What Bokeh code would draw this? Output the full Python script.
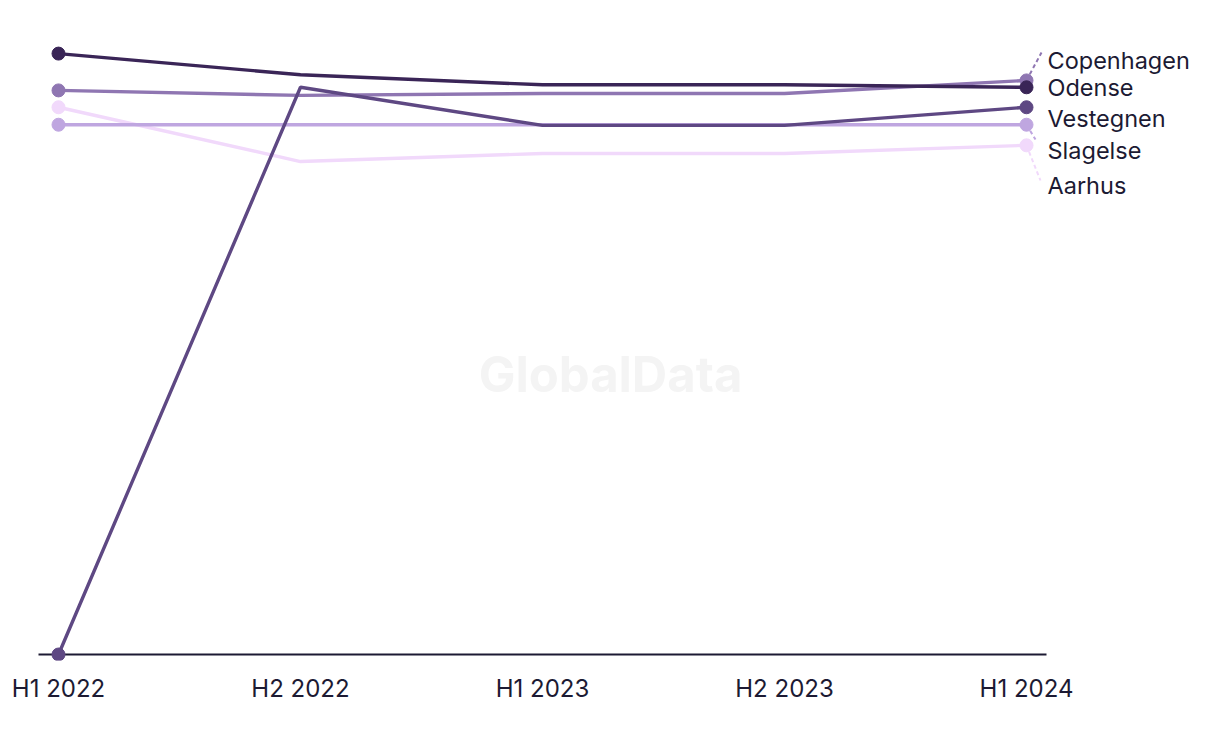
from bokeh.plotting import figure
from bokeh.models import Range1d, FixedTicker
from bokeh.core.properties import value
from bokeh.embed import file_html
from bokeh.resources import INLINE

periods = ["H1 2022", "H2 2022", "H1 2023", "H2 2023", "H1 2024"]
copenhagen = [90.4, 89.6, 89.9, 89.9, 92.0]
odense = [96.3, 92.9, 91.3, 91.3, 90.9]
vestegnen = [0.0, 90.9, 84.8, 84.8, 87.7]
slagelse = [84.9, 84.9, 84.9, 84.9, 84.9]
aarhus = [87.7, 79.0, 80.3, 80.3, 81.6]

series = [
    ("Aarhus", aarhus, "#f1d9fb"),
    ("Slagelse", slagelse, "#bfa6e0"),
    ("Copenhagen", copenhagen, "#8f76b2"),
    ("Vestegnen", vestegnen, "#5e4883"),
    ("Odense", odense, "#3a2557"),
]

W, H = 1220, 744
T = 30            # frame top (px)
FB = 660          # frame bottom (px)
ZERO_PX = 654     # pixel row of value 0
X0_PX = 58        # pixel column of first period
STEP_PX = 242     # pixels between periods
px_per_y = (ZERO_PX - T) / 100.0

def px_to_x(px):
    return (px - X0_PX) / STEP_PX

def px_to_y(py):
    return (ZERO_PX - py) / px_per_y

p = figure(width=W, height=H, output_backend="svg", toolbar_location=None,
           x_range=Range1d(px_to_x(0), px_to_x(W)),
           y_range=Range1d(px_to_y(FB), px_to_y(T)),
           min_border_left=0, min_border_right=0, min_border_top=T,
           min_border_bottom=H - FB)
p.outline_line_color = None
p.grid.visible = False
p.yaxis.visible = False
p.background_fill_color = "white"
p.border_fill_color = "white"

xs = list(range(len(periods)))

# watermark
p.text(x=[px_to_x(610)], y=[px_to_y(374)], text=["GlobalData"],
       text_font=value("Inter"), text_font_style="bold", text_font_size="49px",
       text_color="#f4f4f4", text_align="center", text_baseline="middle")

# baseline
p.segment(x0=[px_to_x(38)], y0=[0], x1=[px_to_x(1046)], y1=[0],
          line_color="#1c1a33", line_width=2)

# right-side labels (pixel y positions of label centres) and leader lines
label_px = {"Copenhagen": 60, "Odense": 87, "Vestegnen": 118, "Slagelse": 150, "Aarhus": 185}
leader_end_px = {"Copenhagen": (1041, 52), "Slagelse": (1035, 139), "Aarhus": (1040, 180)}
for name, vals, col in series:
    if name in leader_end_px:
        ex, ey = leader_end_px[name]
        p.segment(x0=[xs[-1]], y0=[vals[-1]], x1=[px_to_x(ex)], y1=[px_to_y(ey)],
                  line_color=col, line_width=2, line_dash="4 3")

for name, vals, col in series:
    p.line(xs, vals, line_color=col, line_width=3.4)
    p.scatter([xs[0], xs[-1]], [vals[0], vals[-1]], size=13, fill_color=col, line_color=col)

for name, vals, col in series:
    p.text(x=[px_to_x(1047)], y=[px_to_y(label_px[name])], text=[name],
           text_font=value("Inter"), text_font_size="23.5px", text_color="#1c1a33",
           text_align="left", text_baseline="middle")

ax = p.xaxis[0]
ax.ticker = FixedTicker(ticks=xs)
ax.major_label_overrides = {i: s for i, s in enumerate(periods)}
ax.major_tick_line_color = None
ax.minor_tick_line_color = None
ax.axis_line_color = None
ax.major_label_standoff = 7
ax.major_label_text_font = "Inter"
ax.major_label_text_font_size = "24px"
ax.major_label_text_color = "#1c1a33"

open("out.html", "w").write(file_html(p, INLINE))
